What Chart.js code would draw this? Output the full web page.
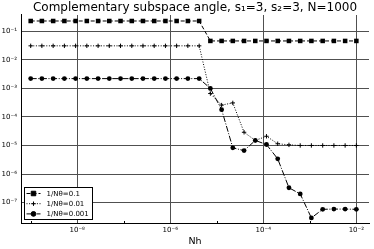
<!DOCTYPE html>
<html>
<head>
<meta charset="utf-8">
<script src="https://cdn.jsdelivr.net/npm/chart.js@4.4.1/dist/chart.umd.min.js"></script>
<style>
html, body { margin: 0; padding: 0; background: #fff; }
#wrap { width: 374px; height: 249px; }
</style>
</head>
<body>
<div id="wrap"><canvas id="canvas_angle" width="374" height="249"></canvas></div>
<script>
// Nh values (30 points, 1e-9 .. 1e-2)
var nh_values = [1.00e-9, 1.74e-9, 3.04e-9, 5.30e-9, 9.24e-9, 1.61e-8, 2.81e-8, 4.89e-8, 8.53e-8, 1.49e-7,
                 2.59e-7, 4.52e-7, 7.88e-7, 1.37e-6, 2.39e-6, 4.18e-6, 7.28e-6, 1.27e-5, 2.21e-5, 3.86e-5,
                 6.72e-5, 1.17e-4, 2.04e-4, 3.56e-4, 6.21e-4, 1.08e-3, 1.89e-3, 3.29e-3, 5.74e-3, 1.00e-2];

// angle for 1/Ntheta = 0.1, 0.01, 0.001
var angle_01 = [0.23, 0.23, 0.23, 0.23, 0.23, 0.23, 0.23, 0.23, 0.23, 0.23,
                0.23, 0.23, 0.23, 0.23, 0.23, 0.23, 0.046, 0.046, 0.046, 0.046,
                0.046, 0.046, 0.046, 0.046, 0.046, 0.046, 0.046, 0.046, 0.046, 0.046];
var angle_001 = [0.031, 0.031, 0.031, 0.031, 0.031, 0.031, 0.031, 0.031, 0.031, 0.031,
                 0.031, 0.031, 0.031, 0.031, 0.031, 0.031, 6.6e-4, 2.6e-4, 3.1e-4, 2.9e-5,
                 1.5e-5, 2.1e-5, 1.15e-5, 1.05e-5, 1.0e-5, 1.0e-5, 1.0e-5, 1.0e-5, 1.0e-5, 1.0e-5];
var angle_0001 = [2.2e-3, 2.2e-3, 2.2e-3, 2.2e-3, 2.2e-3, 2.2e-3, 2.2e-3, 2.2e-3, 2.2e-3, 2.2e-3,
                  2.2e-3, 2.2e-3, 2.2e-3, 2.2e-3, 2.2e-3, 2.2e-3, 1.0e-3, 1.8e-4, 8.3e-6, 6.6e-6,
                  1.5e-5, 1.08e-5, 3.4e-6, 3.3e-7, 2.0e-7, 2.9e-8, 5.8e-8, 5.9e-8, 5.9e-8, 5.8e-8];

var series_labels = ["1/N\u03b8=0.1", "1/N\u03b8=0.01", "1/N\u03b8=0.001"];
var x_tick_exps = [-9, -8, -7, -6, -5, -4, -3, -2];
var y_tick_exps = [-7, -6, -5, -4, -3, -2, -1];

var sup_map = {"-": "\u207b", "0": "\u2070", "1": "\u00b9", "2": "\u00b2", "3": "\u00b3",
               "4": "\u2074", "5": "\u2075", "6": "\u2076", "7": "\u2077", "8": "\u2078", "9": "\u2079"};

function powLabel(e) {
    var s = "";
    var t = String(e);
    for (var i = 0; i < t.length; i++) {
        s += sup_map[t[i]];
    }
    return "10" + s;
}

function toPoints(ys) {
    var pts = [];
    for (var i = 0; i < nh_values.length; i++) {
        pts.push({x: nh_values[i], y: ys[i]});
    }
    return pts;
}

function expOf(v) {
    return Math.round(Math.log10(v));
}

Chart.defaults.font.family = "'DejaVu Sans', sans-serif";
Chart.defaults.color = "#000";

// small inward minor ticks at the odd decades of the x axis
var minorTicks = {
    id: "minorTicks",
    afterDraw: function(chart) {
        var ctx = chart.ctx;
        var xs = chart.scales.x;
        var bottom = chart.chartArea.bottom;
        ctx.save();
        ctx.strokeStyle = "#000";
        ctx.lineWidth = 1;
        for (var i in x_tick_exps) {
            var e = x_tick_exps[i];
            if (e % 2 === 0) continue;
            var px = Math.round(xs.getPixelForValue(Math.pow(10, e))) + 0.5;
            ctx.beginPath();
            ctx.moveTo(px, bottom);
            ctx.lineTo(px, bottom - 2);
            ctx.stroke();
        }
        ctx.restore();
    }
};

// legend box in the lower left corner of the plot
var boxLegend = {
    id: "boxLegend",
    afterDraw: function(chart) {
        var ctx = chart.ctx;
        var area = chart.chartArea;
        var bx = area.left + 3.5;
        var by = area.bottom - 35.5;
        var bw = 68;
        var bh = 32;
        ctx.save();
        ctx.fillStyle = "#fff";
        ctx.strokeStyle = "#000";
        ctx.lineWidth = 1;
        ctx.fillRect(bx, by, bw, bh);
        ctx.strokeRect(bx, by, bw, bh);
        ctx.font = "7px 'DejaVu Sans'";
        ctx.textBaseline = "middle";
        chart.data.datasets.forEach(function(ds, i) {
            var yy = by + 6 + i * 10.2;
            ctx.strokeStyle = "#000";
            ctx.fillStyle = "#000";
            ctx.lineWidth = 1;
            ctx.setLineDash(ds.borderDash);
            ctx.beginPath();
            ctx.moveTo(bx + 2, yy);
            ctx.lineTo(bx + 16, yy);
            ctx.stroke();
            ctx.setLineDash([]);
            Chart.helpers.drawPoint(ctx, {pointStyle: ds.pointStyle, radius: ds.pointRadius, borderWidth: 1, rotation: 0}, bx + 9, yy);
            ctx.fillStyle = "#000";
            ctx.fillText(ds.label, bx + 22, yy + 0.5);
        });
        ctx.restore();
    }
};

var datasets = [
    {label: series_labels[0], data: toPoints(angle_01), borderColor: "#000", backgroundColor: "#000",
     borderWidth: 1, borderDash: [4, 2], pointStyle: "rect", pointRadius: 3.2, pointBorderWidth: 0},
    {label: series_labels[1], data: toPoints(angle_001), borderColor: "#000", backgroundColor: "#000",
     borderWidth: 1, borderDash: [1, 1.6], pointStyle: "cross", pointRadius: 2.2, pointBorderWidth: 1},
    {label: series_labels[2], data: toPoints(angle_0001), borderColor: "#000", backgroundColor: "#000",
     borderWidth: 1, borderDash: [6, 1.6, 1, 1.6], pointStyle: "circle", pointRadius: 2.4, pointBorderWidth: 0}
];

var ctx = document.getElementById("canvas_angle").getContext("2d");
var angleChart = new Chart(ctx, {
    type: "line",
    data: {datasets: datasets},
    plugins: [minorTicks, boxLegend],
    options: {
        responsive: false,
        animation: false,
        devicePixelRatio: 1,
        layout: {padding: 0},
        elements: {line: {tension: 0}},
        plugins: {
            legend: {display: false},
            tooltip: {enabled: false},
            title: {
                display: true,
                fullSize: false,
                text: "Complementary subspace angle, s\u2081=3, s\u2082=3, N=1000",
                color: "#000",
                font: {size: 12, weight: "normal"},
                padding: {top: 0.6, bottom: 0}
            }
        },
        scales: {
            x: {
                type: "logarithmic",
                min: 6.19e-10,
                max: 0.0187,
                afterBuildTicks: function(scale) {
                    scale.ticks = x_tick_exps.map(function(e) { return {value: Math.pow(10, e)}; });
                },
                afterFit: function(scale) { scale.height = 26; },
                ticks: {
                    autoSkip: false,
                    maxRotation: 0,
                    padding: 3,
                    font: {size: 7},
                    color: "#000",
                    callback: function(value) {
                        var e = expOf(value);
                        return (e % 2 === 0) ? powLabel(e) : "";
                    }
                },
                grid: {
                    drawTicks: false,
                    lineWidth: 1,
                    color: function(c) {
                        if (!c.tick) return "rgba(0,0,0,0)";
                        return (expOf(c.tick.value) % 2 === 0) ? "#505050" : "rgba(0,0,0,0)";
                    }
                },
                border: {color: "#000", width: 1},
                title: {display: true, text: "Nh", color: "#000", font: {size: 9.5}, padding: {top: 0, bottom: 2}}
            },
            y: {
                type: "logarithmic",
                min: 1.92e-8,
                max: 0.373,
                afterBuildTicks: function(scale) {
                    scale.ticks = y_tick_exps.map(function(e) { return {value: Math.pow(10, e)}; });
                },
                afterFit: function(scale) { scale.width = 21; },
                ticks: {
                    autoSkip: false,
                    padding: 4,
                    font: {size: 7},
                    color: "#000",
                    callback: function(value) { return powLabel(expOf(value)); }
                },
                grid: {drawTicks: false, lineWidth: 1, color: "#505050"},
                border: {color: "#000", width: 1}
            }
        }
    }
});
</script>
</body>
</html>
